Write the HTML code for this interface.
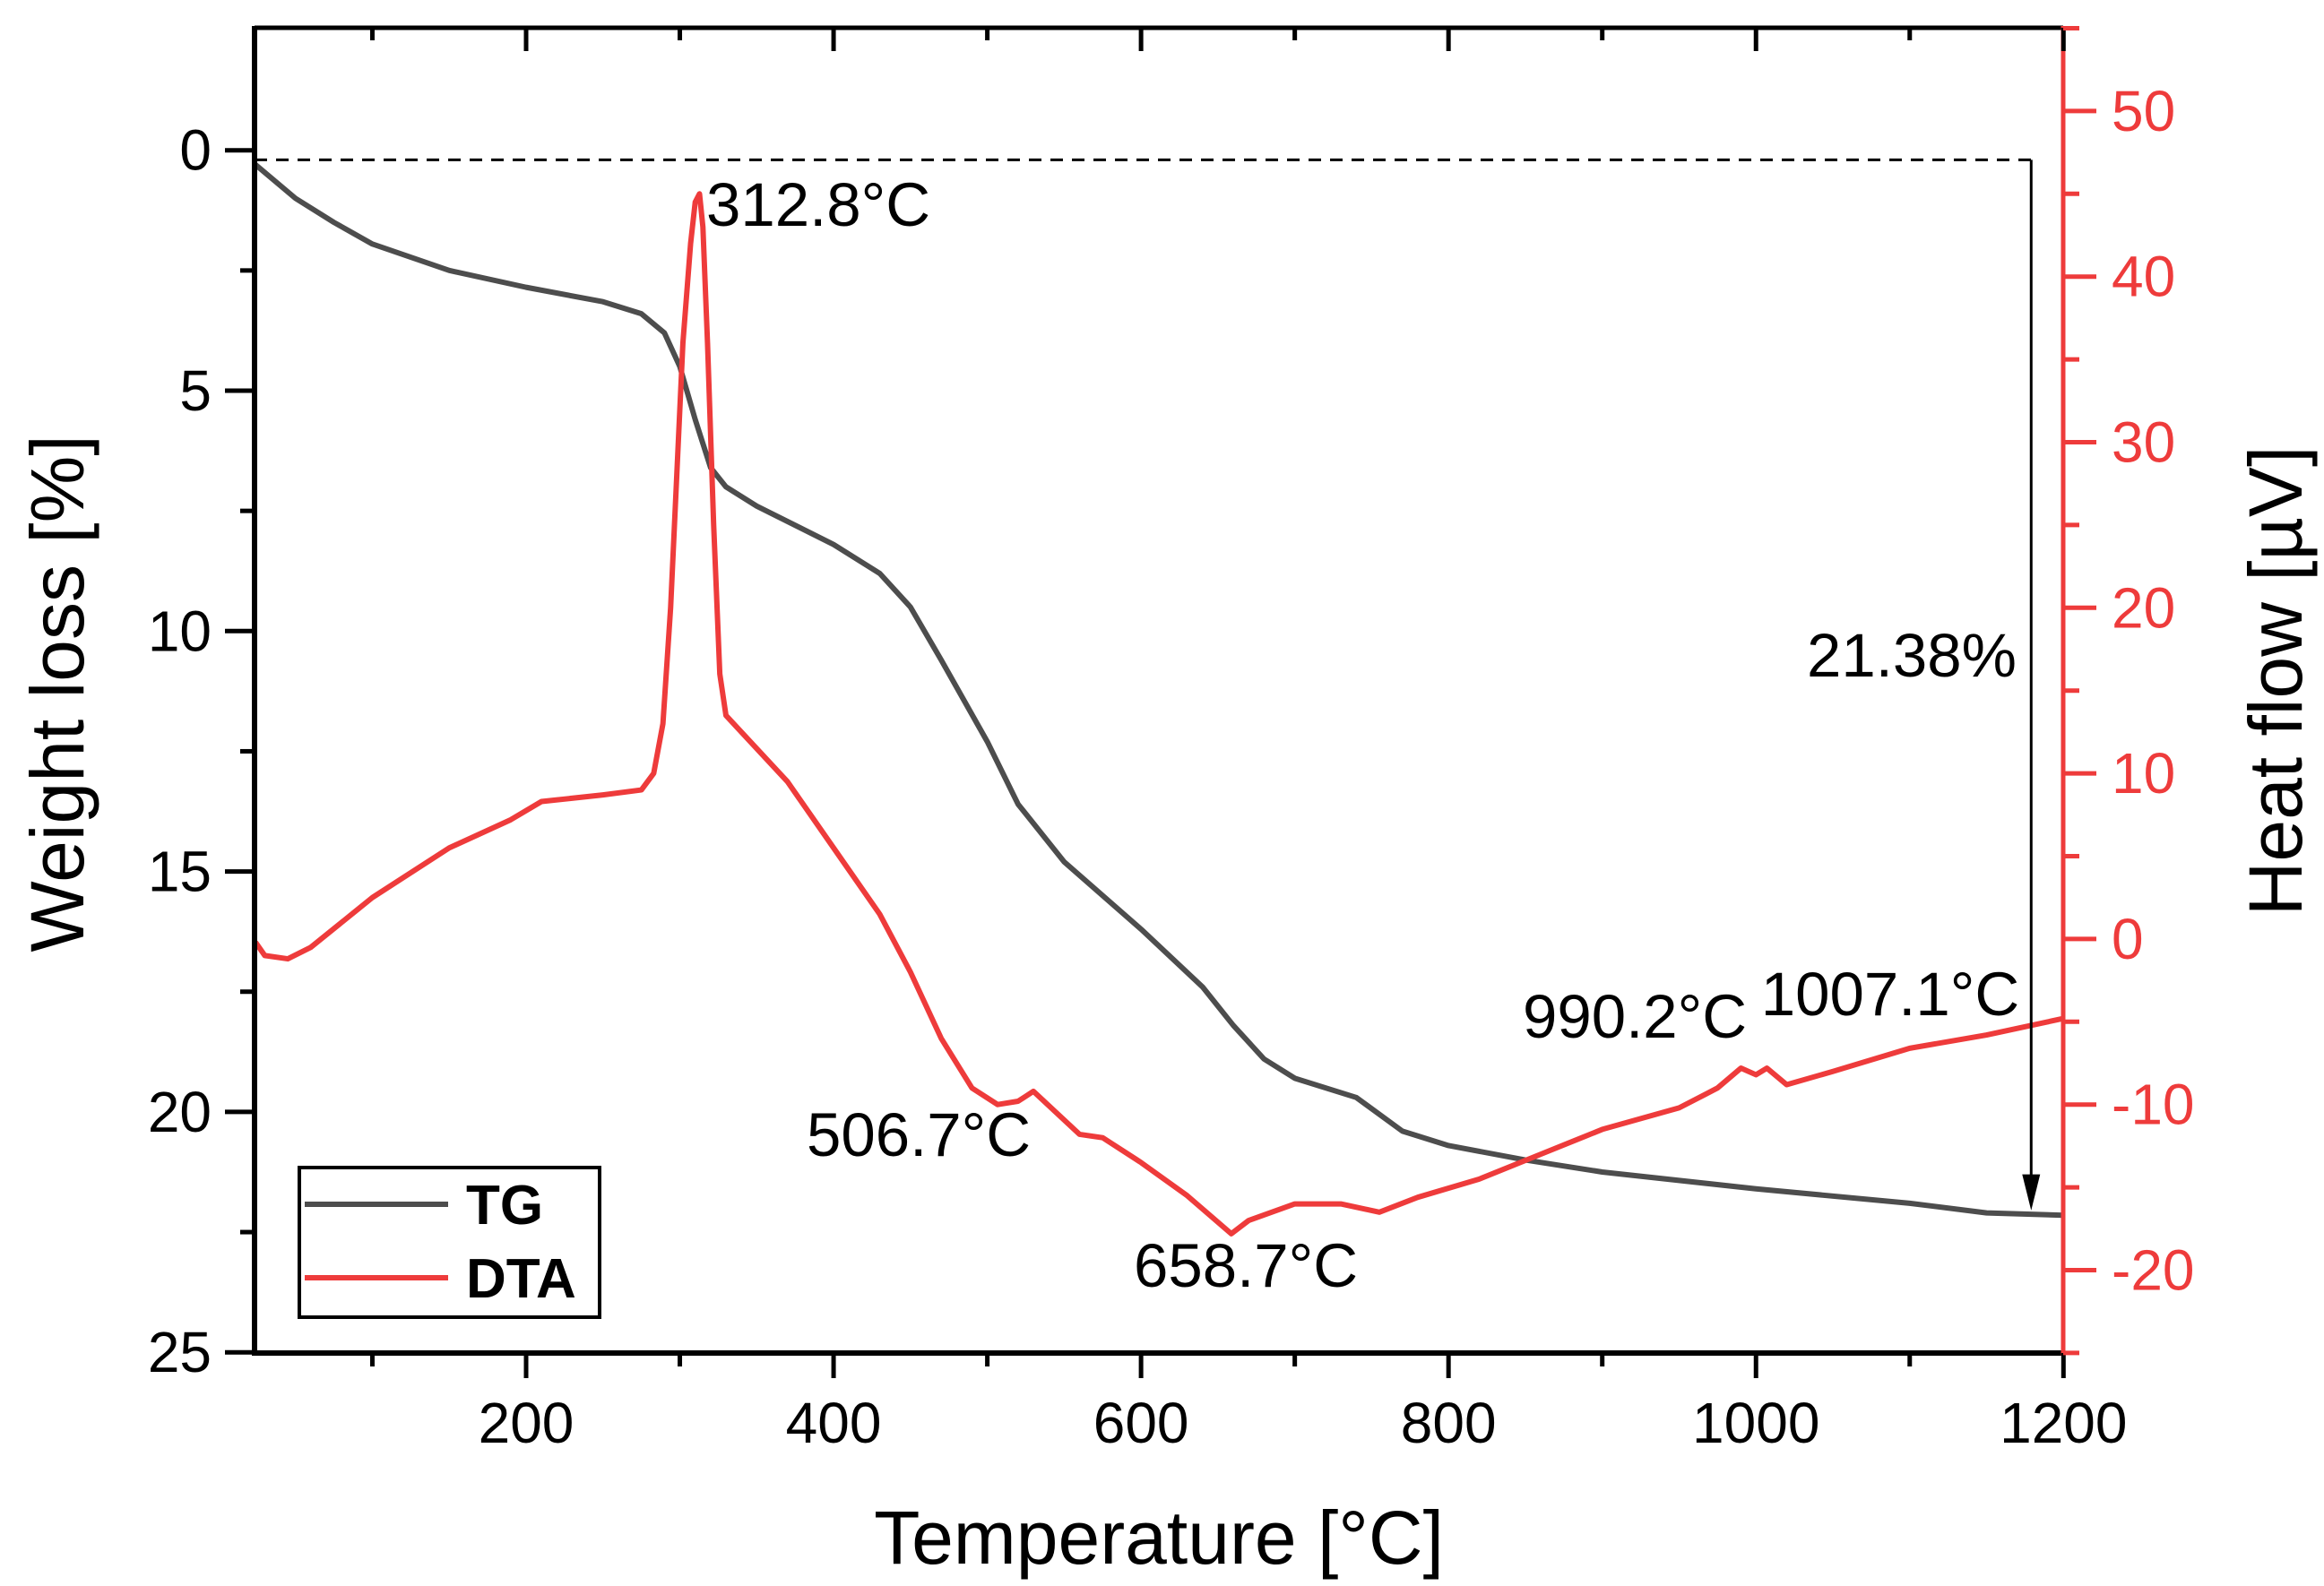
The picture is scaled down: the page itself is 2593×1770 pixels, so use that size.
<!DOCTYPE html>
<html><head><meta charset="utf-8"><style>
html,body{margin:0;padding:0;background:#fff;}
svg{display:block;font-family:"Liberation Sans",Arial,sans-serif;}
</style></head><body>
<svg id="chart" width="2593" height="1770" viewBox="0 0 2593 1770" xmlns="http://www.w3.org/2000/svg">
<rect width="2593" height="1770" fill="#fff"/>
<g id="marks"></g>
</svg>
<script>
const tgTemps = [24,50,75,100,150,200,250,275,290,300,310,320,330,350,400,430,450,470,500,520,550,600,640,660,680,700,740,770,800,850,900,1000,1100,1150,1200];
const tgValues = [0.3,1.0,1.5,1.95,2.5,2.85,3.15,3.4,3.8,4.5,5.6,6.6,7.0,7.4,8.2,8.8,9.5,10.6,12.3,13.6,14.8,16.2,17.4,18.2,18.9,19.3,19.7,20.4,20.7,21.0,21.25,21.6,21.9,22.1,22.15];
const dtaTemps = [24,30,45,60,100,150,190,210,250,275,283,289,294,298,302,307,310,312.8,315,318,322,326,330,340,370,400,430,450,470,490,506.7,520,530,545,560,575,600,630,658.7,670,700,730,755,780,820,860,900,950,975,990.2,1000,1007.1,1020,1050,1100,1150,1200];
const dtaValues = [-0.2,-1.0,-1.2,-0.5,2.5,5.5,7.2,8.3,8.7,9.0,10,13,20,28,36,42,44.5,45,43,36,25,16,13.5,12.5,9.5,5.5,1.5,-2,-6,-9,-10,-9.8,-9.2,-10.5,-11.8,-12,-13.5,-15.5,-17.8,-17,-16,-16,-16.5,-15.6,-14.5,-13,-11.5,-10.2,-9.0,-7.8,-8.2,-7.8,-8.8,-8.0,-6.6,-5.8,-4.8];
const xTicks = [200,400,600,800,1000,1200];
const leftTicks = [0,5,10,15,20,25];
const rightTicks = [-20,-10,0,10,20,30,40,50];
const peakLabels = ["312.8°C","506.7°C","658.7°C","990.2°C","1007.1°C"];
const totalLossLabel = "21.38%";

const NS="http://www.w3.org/2000/svg";
const L=284,R=2302,T=31,B=1510;
const X=t=>587+(t-200)*1.7153;
const YL=v=>167.7+v*53.66;
const YR=v=>1047.9-v*18.48;
const g=document.getElementById('marks');
function el(tag,attrs,txt){const e=document.createElementNS(NS,tag);for(const k in attrs)e.setAttribute(k,attrs[k]);if(txt!==undefined)e.textContent=txt;g.appendChild(e);return e;}

let e=el('line',{x1:L,y1:YL(0.2),x2:X(1179),y2:YL(0.2),stroke:'#000','stroke-width':3,'stroke-dasharray':'14,10'});



e=el('polyline',{points:tgTemps.map((t,i)=>X(t)+','+YL(tgValues[i])).join(' '),fill:'none',stroke:'#4d4d4d','stroke-width':6,'stroke-linejoin':'round'});


e=el('polyline',{points:dtaTemps.map((t,i)=>X(t)+','+YR(dtaValues[i])).join(' '),fill:'none',stroke:'#ee3b3b','stroke-width':6,'stroke-linejoin':'round'});



e=el('line',{x1:X(1179),y1:YL(0.2),x2:X(1179),y2:YL(21.8),stroke:'#000','stroke-width':3});


e=el('polygon',{points:`${X(1179)-10},${YL(21.3)} ${X(1179)+10},${YL(21.3)} ${X(1179)},${YL(22.05)}`,fill:'#000'});



e=el('line',{x1:L,y1:T,x2:R,y2:T,stroke:'#000','stroke-width':5});


e=el('line',{x1:L,y1:B,x2:R,y2:B,stroke:'#000','stroke-width':6});


e=el('line',{x1:L,y1:T-2,x2:L,y2:B+3,stroke:'#000','stroke-width':6});


e=el('line',{x1:R,y1:T-2,x2:R,y2:B+3,stroke:'#ee3b3b','stroke-width':5});



for(let t=100;t<=1200;t+=100){
  const major=t%200===0;
  e=el('line',{x1:X(t),y1:B,x2:X(t),y2:B+(major?28:15),stroke:'#000','stroke-width':5});
  
  
  e=el('line',{x1:X(t),y1:T,x2:X(t),y2:T+(major?26:14),stroke:'#000','stroke-width':5});
  
  
}
xTicks.forEach(t=>{
  e=el('text',{x:X(t),y:1610,'font-size':64,'text-anchor':'middle',fill:'#000'},String(t));
  
  
});
for(let v=0;v<=25;v+=2.5){
  const major=v%5===0;
  e=el('line',{x1:L,y1:YL(v),x2:L-(major?33:16),y2:YL(v),stroke:'#000','stroke-width':5});
  
  
}
leftTicks.forEach(v=>{
  e=el('text',{x:L-48,y:YL(v)+22,'font-size':64,'text-anchor':'end',fill:'#000'},String(v));
  
  
});
for(let v=-25;v<=55;v+=5){
  const major=v%10===0;
  e=el('line',{x1:R,y1:YR(v),x2:R+(major?37:18),y2:YR(v),stroke:'#ee3b3b','stroke-width':5});
  
  
}
rightTicks.forEach(v=>{
  e=el('text',{x:R+54,y:YR(v)+22,'font-size':64,'text-anchor':'start',fill:'#ee3b3b'},v<0?'-'+Math.abs(v):String(v));
  
  
});

e=el('text',{x:1293,y:1745,'font-size':84,'text-anchor':'middle',fill:'#000'},'Temperature [°C]');


e=el('text',{x:0,y:0,'font-size':84,'text-anchor':'middle',fill:'#000',transform:'translate(93,774) rotate(-90)'},'Weight loss [%]');


e=el('text',{x:0,y:0,'font-size':84,'text-anchor':'middle',fill:'#000',transform:'translate(2568,760) rotate(-90)'},'Heat flow [µV]');



const annPos=[[788,252,'start'],[1025,1290,'middle'],[1390,1436,'middle'],[1824,1158,'middle'],[2109,1133,'middle']];
peakLabels.forEach((s,i)=>{
  e=el('text',{x:annPos[i][0],y:annPos[i][1],'font-size':69,'text-anchor':annPos[i][2],fill:'#000'},s);
  
  
});
e=el('text',{x:2133,y:755,'font-size':69,'text-anchor':'middle',fill:'#000'},totalLossLabel);



e=el('rect',{x:334,y:1303,width:335,height:167,fill:'#fff',stroke:'#000','stroke-width':4});


e=el('line',{x1:340,y1:1344,x2:500,y2:1344,stroke:'#4d4d4d','stroke-width':6});


e=el('text',{x:520,y:1366,'font-size':62,'font-weight':'bold',fill:'#000'},'TG');


e=el('line',{x1:340,y1:1426,x2:500,y2:1426,stroke:'#ee3b3b','stroke-width':6});


e=el('text',{x:520,y:1448,'font-size':62,'font-weight':'bold',fill:'#000'},'DTA');


</script>
</body></html>
